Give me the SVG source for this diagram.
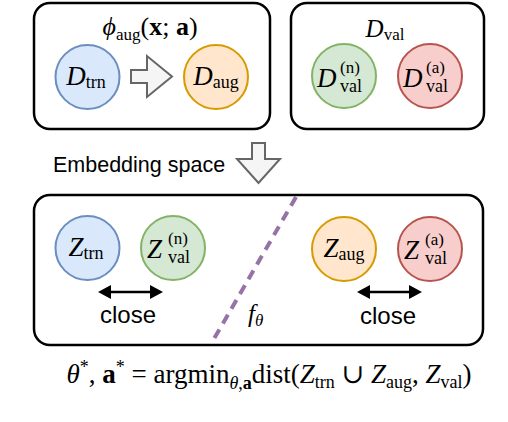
<svg xmlns="http://www.w3.org/2000/svg" width="508" height="422" viewBox="0 0 508 422">
<defs>
<style>
.box{fill:#fff;stroke:#000;stroke-width:2.5}
.c{stroke-width:2}
.blue{fill:#dae8fc;stroke:#6c8ebf}
.orange{fill:#ffe6cc;stroke:#d79b00}
.green{fill:#d5e8d4;stroke:#82b366}
.red{fill:#f8cecc;stroke:#b85450}
.m{font-family:"Liberation Serif","DejaVu Serif",serif;fill:#000}
.s{font-family:"Liberation Sans",Arial,sans-serif;fill:#000}
.it{font-style:italic}
.b{font-weight:bold}
.blk{fill:#f5f5f5;stroke:#666;stroke-width:2;stroke-linejoin:miter}
.dbl{stroke:#000;stroke-width:2.5}
.head{fill:#000}
</style>
</defs>
<rect width="508" height="422" fill="#fff"/>

<g id="aug-box">
<rect class="box" x="34" y="3" width="236" height="126" rx="16"/>
<text class="m" x="150" y="35" font-size="26" text-anchor="middle"><tspan class="it">ϕ</tspan><tspan font-size="17" dy="5">aug</tspan><tspan dy="-5">(</tspan><tspan class="b">x</tspan>; <tspan class="b">a</tspan>)</text>
</g>
<g id="d-trn">
<circle class="c blue" cx="87.5" cy="77" r="32"/>
<text class="m" x="86" y="85" font-size="27" text-anchor="middle"><tspan class="it">D</tspan><tspan font-size="18" dy="3">trn</tspan></text>
</g>
<g id="aug-arrow">
<path class="blk" d="M131,70 L147,70 L147,56 L172,76.5 L147,97 L147,83 L131,83 Z"/>
</g>
<g id="d-aug">
<circle class="c orange" cx="216" cy="77" r="32"/>
<text class="m" x="216" y="85" font-size="27" text-anchor="middle"><tspan class="it">D</tspan><tspan font-size="18" dy="3">aug</tspan></text>
</g>

<g id="val-box">
<rect class="box" x="291" y="3" width="193" height="126" rx="16"/>
<text class="m" x="385" y="37" font-size="25" text-anchor="middle"><tspan class="it">D</tspan><tspan font-size="17" dy="3">val</tspan></text>
</g>
<g id="d-val-n">
<circle class="c green" cx="344" cy="76" r="32"/>
<text class="m it" x="317" y="87" font-size="27">D</text>
<text class="m" x="340" y="73" font-size="17">(n)</text>
<text class="m" x="340" y="92" font-size="18">val</text>
</g>
<g id="d-val-a">
<circle class="c red" cx="430" cy="76" r="32"/>
<text class="m it" x="403" y="87" font-size="27">D</text>
<text class="m" x="426" y="73" font-size="17">(a)</text>
<text class="m" x="426" y="92" font-size="18">val</text>
</g>

<g id="embed">
<text class="s" x="53" y="172" font-size="21.5">Embedding space</text>
<path class="blk" d="M252,143 L265,143 L265,159 L280,159 L258.5,183 L237,159 L252,159 Z"/>
</g>

<g id="emb-box">
<rect class="box" x="34" y="195" width="449" height="150" rx="16"/>
</g>
<g id="z-trn">
<circle class="c blue" cx="87.5" cy="248" r="32"/>
<text class="m" x="86" y="256" font-size="27" text-anchor="middle"><tspan class="it">Z</tspan><tspan font-size="18" dy="3">trn</tspan></text>
</g>
<g id="z-val-n">
<circle class="c green" cx="173" cy="248" r="32"/>
<text class="m it" x="147" y="258" font-size="27">Z</text>
<text class="m" x="168" y="244" font-size="17">(n)</text>
<text class="m" x="168" y="263" font-size="18">val</text>
</g>
<g id="z-aug">
<circle class="c orange" cx="344" cy="249" r="32"/>
<text class="m" x="344" y="257" font-size="27" text-anchor="middle"><tspan class="it">Z</tspan><tspan font-size="18" dy="3">aug</tspan></text>
</g>
<g id="z-val-a">
<circle class="c red" cx="430" cy="249" r="32"/>
<text class="m it" x="404" y="259" font-size="27">Z</text>
<text class="m" x="425" y="245" font-size="17">(a)</text>
<text class="m" x="425" y="264" font-size="18">val</text>
</g>

<g id="connectors">
<line x1="296" y1="197" x2="211" y2="344" stroke="#9673a6" stroke-width="4" stroke-dasharray="10,7"/>
<line class="dbl" x1="108" y1="292" x2="153" y2="292"/>
<path class="head" d="M98,292 L111,285 L111,299 Z"/>
<path class="head" d="M163,292 L150,285 L150,299 Z"/>
<line class="dbl" x1="367" y1="292" x2="412" y2="292"/>
<path class="head" d="M357,292 L370,285 L370,299 Z"/>
<path class="head" d="M422,292 L409,285 L409,299 Z"/>
</g>
<g id="labels">
<text class="s" x="128" y="323" font-size="24" text-anchor="middle">close</text>
<text class="s" x="388" y="324" font-size="24" text-anchor="middle">close</text>
<text class="m" x="248" y="322" font-size="25"><tspan class="it">f</tspan><tspan class="it" font-size="17" dy="4">θ</tspan></text>
</g>

<g id="objective">
<text class="m" x="269" y="383" font-size="27" text-anchor="middle"><tspan class="it">θ</tspan><tspan font-size="18" dy="-10">*</tspan><tspan dy="10">, </tspan><tspan class="b">a</tspan><tspan font-size="18" dy="-10">*</tspan><tspan dy="10"> = argmin</tspan><tspan font-size="18" dy="6"><tspan class="it">θ</tspan>,<tspan class="b">a</tspan></tspan><tspan dy="-6">dist(</tspan><tspan class="it">Z</tspan><tspan font-size="18" dy="5">trn</tspan><tspan dy="-5"> ∪ </tspan><tspan class="it">Z</tspan><tspan font-size="18" dy="5">aug</tspan><tspan dy="-5">, </tspan><tspan class="it">Z</tspan><tspan font-size="18" dy="5">val</tspan><tspan dy="-5">)</tspan></text>
</g>
</svg>
